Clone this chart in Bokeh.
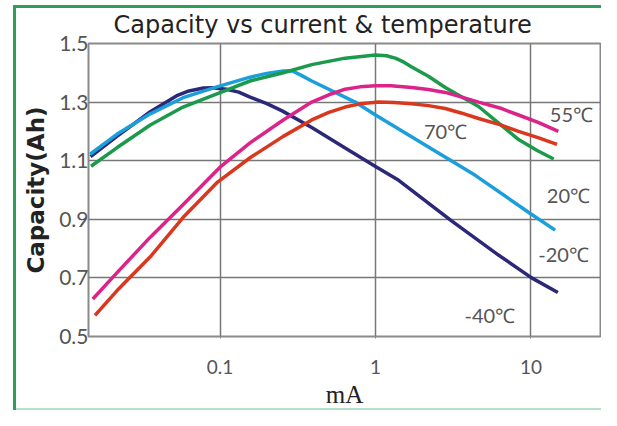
from bokeh.plotting import figure
from bokeh.models import FixedTicker, Range1d
from bokeh.embed import file_html
from bokeh.resources import INLINE
from bokeh.core.properties import value

title_text = "Capacity vs current & temperature"
x_label = "mA"
y_label = "Capacity(Ah)"
x_ticks = [0.1, 1, 10]
x_tick_labels = ["0.1", "1", "10"]
y_ticks = [0.5, 0.7, 0.9, 1.1, 1.3, 1.5]

navy_x = [0.0147, 0.0217, 0.0356, 0.0527, 0.0631, 0.0783, 0.0891, 0.11, 0.132, 0.156, 0.2, 0.251, 0.389, 0.638, 1.0, 1.41, 3.1, 6.18, 10.1, 14.9]
navy_y = [1.114, 1.183, 1.267, 1.322, 1.338, 1.348, 1.349, 1.344, 1.334, 1.317, 1.295, 1.27, 1.213, 1.143, 1.08, 1.033, 0.894, 0.778, 0.70, 0.65]

cyan_x = [0.0146, 0.0217, 0.0356, 0.0578, 0.0955, 0.156, 0.2, 0.255, 0.29, 0.331, 0.389, 0.74, 1.0, 4.38, 10.0, 14.3]
cyan_y = [1.122, 1.19, 1.26, 1.315, 1.352, 1.385, 1.398, 1.406, 1.407, 1.392, 1.372, 1.30, 1.256, 1.05, 0.918, 0.863]

green_x = [0.0148, 0.0217, 0.0356, 0.0578, 0.0955, 0.156, 0.255, 0.389, 0.638, 1.0, 1.175, 1.34, 1.514, 1.71, 2.188, 2.81, 4.6, 6.31, 8.32, 10.96, 14.0]
green_y = [1.081, 1.144, 1.222, 1.283, 1.328, 1.372, 1.40, 1.428, 1.45, 1.461, 1.458, 1.45, 1.437, 1.42, 1.388, 1.35, 1.285, 1.225, 1.172, 1.135, 1.106]

pink_x = [0.0152, 0.0217, 0.0356, 0.0578, 0.1, 0.156, 0.255, 0.389, 0.501, 0.638, 0.794, 1.0, 1.259, 1.71, 2.188, 2.81, 3.548, 4.6, 6.31, 8.32, 11.22, 15.0]
pink_y = [0.628, 0.717, 0.839, 0.95, 1.078, 1.161, 1.239, 1.30, 1.325, 1.344, 1.352, 1.356, 1.356, 1.35, 1.343, 1.333, 1.318, 1.30, 1.28, 1.256, 1.23, 1.20]

red_x = [0.0157, 0.0217, 0.0356, 0.0578, 0.0955, 0.156, 0.255, 0.389, 0.501, 0.638, 0.794, 1.05, 1.318, 1.71, 2.188, 2.81, 3.548, 4.6, 6.31, 8.32, 11.22, 14.7]
red_y = [0.572, 0.656, 0.772, 0.906, 1.025, 1.11, 1.183, 1.239, 1.265, 1.283, 1.294, 1.30, 1.299, 1.294, 1.288, 1.278, 1.263, 1.244, 1.223, 1.20, 1.178, 1.156]

label_text = ["55℃", "70℃", "20℃", "-20℃", "-40℃"]
label_x = [18.2, 2.82, 17.4, 16.2, 5.44]
label_y = [1.258, 1.20, 0.983, 0.781, 0.572]

series = [
    (navy_x, navy_y, "#2b2878"),
    (cyan_x, cyan_y, "#1b9fdb"),
    (green_x, green_y, "#1b9a4c"),
    (pink_x, pink_y, "#dc2389"),
    (red_x, red_y, "#d9381f"),
]

p = figure(width=601, height=410, x_axis_type="log", output_backend="svg",
           toolbar_location=None, x_range=Range1d(0.01426, 28.0), y_range=Range1d(0.5, 1.5),
           min_border_left=88, min_border_right=1, min_border_top=43, min_border_bottom=71)

p.styles = {
    "background-image": ("linear-gradient(#2e9e5b, #2e9e5b), linear-gradient(#2e9e5b, #2e9e5b), "
                         "linear-gradient(#b3e0c6, #b3e0c6)"),
    "background-size": "3px 100%, 100% 3px, 100% 2px",
    "background-position": "13px 5px, 13px 5px, 13px 100%",
    "background-repeat": "no-repeat",
}

p.title.text = title_text
p.title.text_font = "DejaVu Sans"
p.title.text_font_size = "24px"
p.title.text_font_style = "normal"
p.title.text_color = "#222222"
p.title.align = "left"
p.title.offset = 25
p.title.standoff = 10

p.outline_line_color = "#8a8a8a"
p.outline_line_width = 2
p.background_fill_color = "white"
p.border_fill_alpha = 0

p.xaxis.ticker = FixedTicker(ticks=x_ticks)
p.xaxis.major_label_overrides = {t: l for t, l in zip(x_ticks, x_tick_labels)}
p.yaxis.ticker = FixedTicker(ticks=y_ticks)
p.xaxis.minor_tick_line_color = None
p.yaxis.minor_tick_line_color = None
for ax in (p.xaxis, p.yaxis):
    ax.axis_line_color = None
    ax.major_tick_line_color = "#8a8a8a"
    ax.major_tick_in = 0
    ax.major_label_text_font = "Lato"
    ax.major_label_text_color = "#555555"
p.yaxis.major_tick_out = 0
p.xaxis.major_tick_out = 2
p.yaxis.major_label_text_font_size = "21px"
p.xaxis.major_label_text_font_size = "19px"
p.yaxis.major_label_standoff = 0
p.xaxis.major_label_standoff = 21

p.yaxis.axis_label = y_label
p.yaxis.axis_label_text_font = "DejaVu Sans"
p.yaxis.axis_label_text_font_style = "bold"
p.yaxis.axis_label_text_font_size = "23px"
p.yaxis.axis_label_text_color = "#222222"
p.yaxis.axis_label_standoff = 7

p.xaxis.axis_label = x_label
p.xaxis.axis_label_text_font = "Liberation Serif"
p.xaxis.axis_label_text_font_style = "normal"
p.xaxis.axis_label_text_font_size = "25px"
p.xaxis.axis_label_text_color = "#222222"
p.xaxis.axis_label_standoff = 4

p.xgrid.ticker = FixedTicker(ticks=x_ticks)
p.ygrid.ticker = FixedTicker(ticks=y_ticks)
for g in (p.xgrid, p.ygrid):
    g.grid_line_color = "#777777"
    g.grid_line_width = 1.5

for xs, ys, c in series:
    p.line(xs, ys, line_color=c, line_width=3.5)

p.text(x=label_x, y=label_y, text=label_text, text_font=value("Lato"),
       text_font_size="20px", text_color="#555555", text_align="center",
       text_baseline="middle")

open("out.html", "w").write(file_html(p, INLINE))
